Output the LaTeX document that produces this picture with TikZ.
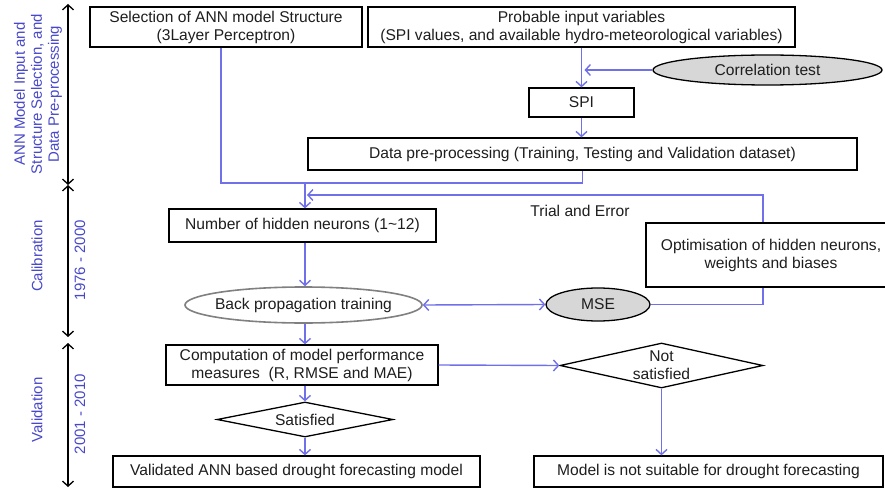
\documentclass[tikz,border=0pt]{standalone}
\usepackage{fontspec}
\setmainfont{Liberation Sans}
\usetikzlibrary{arrows.meta,shapes.geometric}
\definecolor{flow}{RGB}{112,112,232}
\definecolor{lab}{RGB}{72,72,200}
\definecolor{shade}{RGB}{215,215,215}
\definecolor{txt}{RGB}{30,30,30}
\begin{document}
\begin{tikzpicture}[x=1pt,y=-1pt,
  font=\fontsize{15.6}{18}\selectfont,
  every node/.style={text=txt},
  box/.style={draw=black,line width=1.3pt,inner sep=0pt,align=center,fill=white},
  oval/.style={ellipse,draw=black,line width=1.3pt,inner sep=0pt,fill=shade},
  dia/.style={diamond,draw=black,line width=1.3pt,inner sep=0pt,fill=white},
  fl/.style={draw=flow,line width=1.4pt},
  fa/.style={fl,-{Straight Barb[length=5pt,width=11pt]}},
  fb/.style={fl,{Straight Barb[length=5pt,width=11pt]}-{Straight Barb[length=5pt,width=11pt]}},
  ax/.style={draw=black,line width=1.3pt,{Straight Barb[length=5pt,width=11pt]}-{Straight Barb[length=5pt,width=11pt]}},
  axl/.style={text=lab,rotate=90,align=center,font=\fontsize{15}{17}\selectfont}
]
\useasboundingbox (0,0) rectangle (885,489);

% axis
\coordinate (a0) at (68,4);
\coordinate (a1) at (68,185);
\coordinate (a2) at (68,337);
\coordinate (a3) at (68,343);
\coordinate (a4) at (68,487);
\draw[ax] (a0) -- (a1);
\draw[ax] (a1) -- (a2);
\draw[ax] (a3) -- (a4);
\node[axl] (l1) at (38,94) {ANN Model Input and\\Structure Selection, and\\Data Pre-processing};
\node[axl] (l2) at (37,256) {Calibration};
\node[axl] (l3) at (80,260) {1976 - 2000};
\node[axl] (l4) at (37,410) {Validation};
\node[axl] (l5) at (80,414) {2001 - 2010};

% nodes
\node[box,minimum width=272,minimum height=40] (sel) at (226,27) {Selection of ANN model Structure\\(3Layer Perceptron)};
\node[box,minimum width=427,minimum height=40] (prob) at (581.5,27) {Probable input variables\\(SPI values, and available hydro-meteorological variables)};
\node[oval,minimum width=229,minimum height=30] (corr) at (767.5,70) {Correlation test};
\node[box,minimum width=105,minimum height=29] (spi) at (581.5,102.5) {SPI};
\node[box,minimum width=549,minimum height=32] (data) at (582.5,154) {Data pre-processing (Training, Testing and Validation dataset)};
\node[box,minimum width=267,minimum height=33] (num) at (302.5,225.5) {Number of hidden neurons (1\textasciitilde12)};
\node[box,minimum width=250,minimum height=64] (opt) at (771,255) {Optimisation of hidden neurons,\\weights and biases};
\node[oval,draw=gray,fill=white,line width=1.6pt,minimum width=237,minimum height=36,label={[text=txt]center:Back propagation training}] (bp) at (303.5,305) {};
\node[oval,minimum width=104,minimum height=33] (mse) at (598,304.5) {MSE};
\node[box,minimum width=272,minimum height=40] (comp) at (302,365) {Computation of model performance\\measures~ (R, RMSE and MAE)};
\node[dia,minimum width=203,minimum height=45,label={[align=center,text=txt]center:Not\\satisfied}] (ns) at (661.5,365.5) {};
\node[dia,minimum width=176,minimum height=35,label={[text=txt]center:Satisfied}] (sat) at (305,419.5) {};
\node[box,minimum width=367,minimum height=31] (val) at (296.5,471.5) {Validated ANN based drought forecasting model};
\node[box,minimum width=349,minimum height=31] (nsu) at (708.5,471.5) {Model is not suitable for drought forecasting};
\node (te) at (580,211) {Trial and Error};

% connectors
\coordinate (j) at (305,183);
\coordinate (t) at (763,195);
\draw[fa] (prob.south) -- (spi.north);
\draw[fa] (corr.west) -- ([xshift=3pt]prob.south |- corr.west);
\draw[fa] (spi.south) -- (spi.south |- data.north);
\draw[fl] ([xshift=-5pt]sel.south) |- (j) -| (data.south);
\draw[fa] (j) -- (j |- num.north);
\draw[fa] (opt.north -| t) -- (t) -- ([xshift=2pt]j |- t);
\draw[fl] (mse.east) -| (opt.south -| t);
\draw[fa] (j |- num.south) -- (j |- bp.north);
\draw[fb] (bp.east) -- (mse.west);
\draw[fa] (j |- bp.south) -- (j |- comp.north);
\draw[fa] (comp.east) -- (ns.west);
\draw[fa] (sat.north |- comp.south) -- (sat.north);
\draw[fa] (sat.south) -- (sat.south |- val.north);
\draw[fa] (ns.south) -- (ns.south |- nsu.north);
\end{tikzpicture}
\end{document}
